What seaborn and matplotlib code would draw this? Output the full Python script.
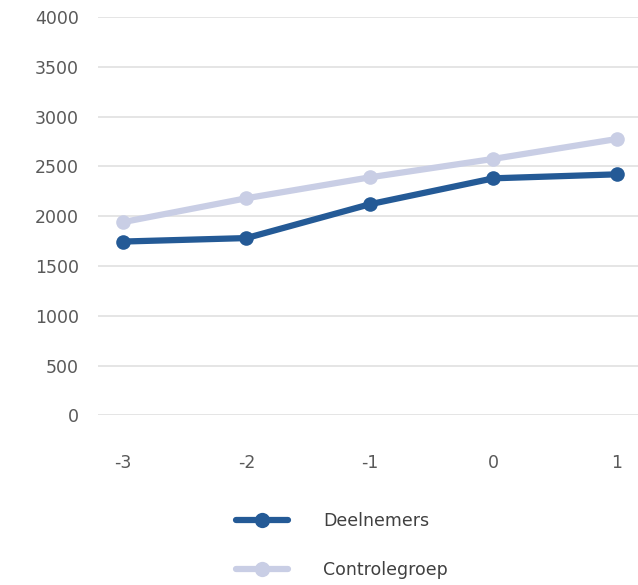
import numpy as np
import pandas as pd
import matplotlib.pyplot as plt
import seaborn as sns

jaren = [-3, -2, -1, 0, 1]
deelnemers = [1745, 1780, 2120, 2380, 2420]
controlegroep = [1940, 2180, 2390, 2575, 2775]
groepen = ['Deelnemers', 'Controlegroep']
kleuren = ['#245a96', '#c9cee5']

df = pd.DataFrame({
    'Jaar': jaren * 2,
    'Waarde': deelnemers + controlegroep,
    'Groep': [groepen[0]] * 5 + [groepen[1]] * 5,
})

sns.set_style('white')
plt.rcParams['font.family'] = ['DejaVu Sans']

fig = plt.figure(figsize=(6.38, 5.85), dpi=100)
ax = fig.add_axes([0.154, 0.29, 0.846, 0.681])

sns.lineplot(data=df, x='Jaar', y='Waarde', hue='Groep', hue_order=groepen[::-1],
             palette=dict(zip(groepen, kleuren)), marker='o', markersize=10.5,
             linewidth=4.5, markeredgewidth=0, legend=False, ax=ax)

ax.set_ylim(0, 4000)
ax.set_xlim(-3.2, 1.17)
ax.set_yticks(np.arange(0, 4001, 500))
ax.set_xticks(jaren)
ax.set_xticklabels([str(j) for j in jaren])
ax.grid(axis='y', color='#e3e3e3', linewidth=1.3)
ax.set_axisbelow(True)
for s in ax.spines.values():
    s.set_visible(False)
ax.tick_params(axis='both', length=0, labelsize=12.5, labelcolor='#595959')
ax.tick_params(axis='y', pad=14)
ax.tick_params(axis='x', pad=28)
ax.set_xlabel('')
ax.set_ylabel('')

handles = [plt.Line2D([], [], color=c, linewidth=4.5, marker='o', markersize=11,
                      markeredgewidth=0) for c in kleuren]
fig.legend(handles, groepen, loc='center', bbox_to_anchor=(0.536, 0.068), frameon=False,
           fontsize=12.5, labelcolor='#404040', handlelength=3.0, handletextpad=2.0,
           labelspacing=1.8)

fig.savefig('out.png', dpi=100)
